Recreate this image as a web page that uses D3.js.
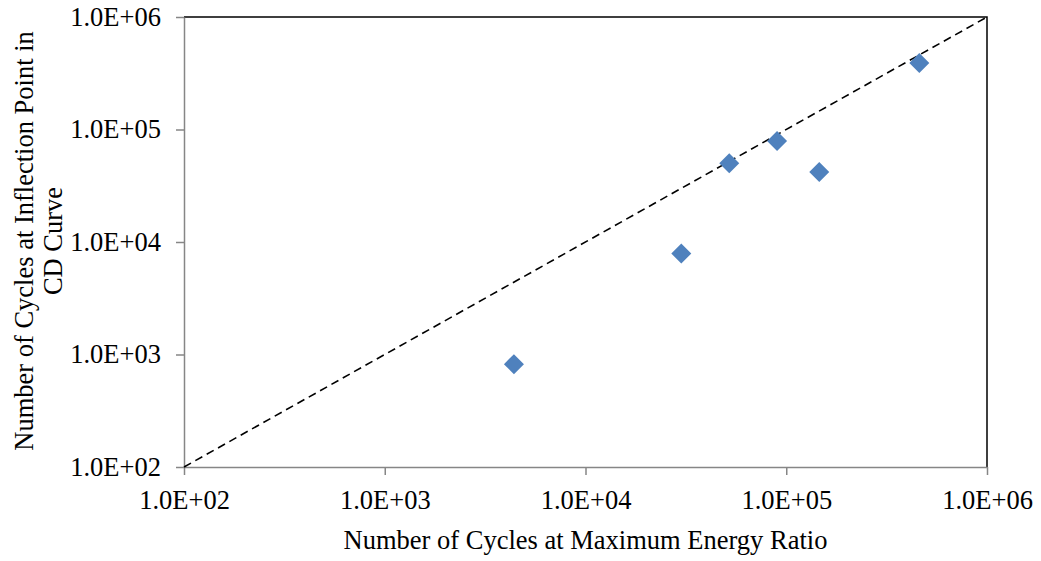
<!DOCTYPE html>
<html><head><meta charset="utf-8">
<script src="https://cdn.jsdelivr.net/npm/d3@7/dist/d3.min.js"></script>
<style>body{margin:0;background:#fff;} text{font-family:"Liberation Serif","Times New Roman",serif;}</style>
</head><body>
<svg id="chart" width="1041" height="561"></svg>
<script>
const xValues = [4400, 30000, 52000, 90000, 146000, 460000];
const yValues = [820, 7900, 50000, 79000, 42000, 390000];
const tickValues = [1e2, 1e3, 1e4, 1e5, 1e6];
const tickLabels = ["1.0E+02", "1.0E+03", "1.0E+04", "1.0E+05", "1.0E+06"];
const refLine = [100, 1e6];
const xTitle = "Number of Cycles at Maximum Energy Ratio";
const yTitleLines = ["Number of Cycles at Inflection Point in", "CD Curve"];

const svg = d3.select("#chart");
const L = 184, R = 987, T = 17, B = 467;
const x = d3.scaleLog().domain([1e2, 1e6]).range([L, R]);
const y = d3.scaleLog().domain([1e2, 1e6]).range([B, T]);
const fmt = d => tickLabels[tickValues.indexOf(d)];

// plot border (top/right)
svg.append("path").attr("d", `M${L},${T}H${R}V${B}`).attr("fill", "none").attr("stroke", "#000").attr("stroke-width", 1.5);

const xAxis = svg.append("g").attr("transform", `translate(0,${B})`)
  .call(d3.axisBottom(x).tickValues(tickValues).tickFormat(fmt).tickSize(8).tickSizeOuter(0));
const yAxis = svg.append("g").attr("transform", `translate(${L},0)`)
  .call(d3.axisLeft(y).tickValues(tickValues).tickFormat(fmt).tickSize(8).tickSizeOuter(0).tickPadding(15));
[xAxis, yAxis].forEach(g => {
  g.select(".domain").attr("stroke", "#868686").attr("stroke-width", 1.5);
  g.selectAll(".tick line").attr("stroke", "#868686").attr("stroke-width", 1.5);
  g.selectAll(".tick text").attr("fill", "#000").style("font-size", "26.5px").style("font-family", "'Liberation Serif', serif");
});
xAxis.selectAll(".tick text").attr("y", 42).attr("dy", "0");

// reference line y = x
svg.append("line")
  .attr("x1", x(refLine[0])).attr("y1", y(refLine[0]))
  .attr("x2", x(refLine[1])).attr("y2", y(refLine[1]))
  .attr("stroke", "#000").attr("stroke-width", 1.6).attr("stroke-dasharray", "8,5");

// markers
const data = xValues.map((v, i) => [v, yValues[i]]);
svg.append("g").selectAll("path").data(data).enter().append("path")
  .attr("transform", d => `translate(${x(d[0])},${y(d[1])})`)
  .attr("d", "M0,-10L10,0L0,10L-10,0Z")
  .attr("fill", "#4F81BD");

svg.append("text").attr("x", (L + R) / 2).attr("y", 549).attr("text-anchor", "middle")
  .style("font-size", "26.5px").text(xTitle);

const ytBase = [33, 62];
yTitleLines.forEach((t, i) => {
  svg.append("text").attr("transform", `translate(${ytBase[i]},${(T + B) / 2 - 1}) rotate(-90)`)
    .attr("text-anchor", "middle").style("font-size", "26.5px").text(t);
});
</script>
</body></html>
